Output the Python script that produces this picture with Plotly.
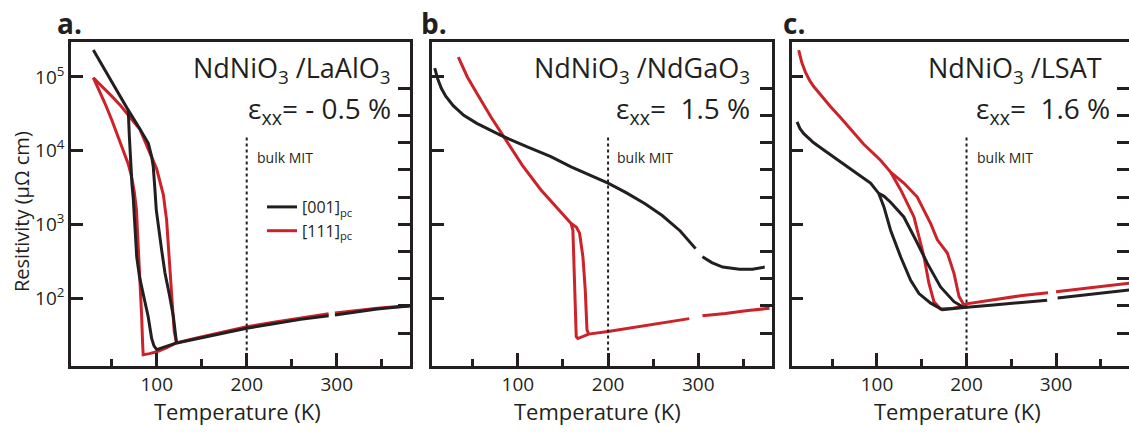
import plotly.graph_objects as go

# ---------------- data (T in K, log10 of resistivity in µΩ cm) ----------------
# Panel a: NdNiO3 / LaAlO3
a_black_T = [29.6, 50, 68.4, 69.6, 71, 72.5, 74, 76, 77.8, 81, 84, 87, 90.5, 94.4, 97, 100, 110, 122,
             142, 170, 200, 230, 260, 291, None, 298, 320, 345, 365, 381,
             None, 122, 120.5, 118.5, 114, 109.2, 105.5, 101.8, 99.5, 98.1, 97.3, 96.2, 94.4, 90.7, 80, 68.4]
a_black_log = [5.365, 4.94, 4.55, 4.2, 3.8, 3.55, 3.35, 2.85, 2.56, 2.28, 2.12, 1.97, 1.75, 1.45, 1.35, 1.30, 1.34, 1.39,
               1.44, 1.51, 1.59, 1.65, 1.71, 1.76, None, 1.77, 1.81, 1.85, 1.875, 1.89,
               None, 1.39, 1.55, 1.75, 2.05, 2.34, 2.65, 3.01, 3.2, 3.46, 3.62, 3.78, 3.92, 4.10, 4.32, 4.55]
a_red_T = [29.6, 36, 42.6, 50, 57, 63, 68.4, 72, 75, 77.5, 79, 80.5, 82, 83.3, 84.3, 85, 92, 100, 110, 122,
           142, 170, 200, 230, 260, 291, None, 298, 320, 345, 365, 381,
           None, 122, 119.5, 118, 116.5, 115, 113, 111, 109.5, 107.4, 100, 90.7, 81.4, 74, 66.7, 60, 50, 40.7, 29.6]
a_red_log = [4.99, 4.82, 4.64, 4.42, 4.19, 3.98, 3.82, 3.65, 3.45, 3.2, 2.85, 2.5, 2.1, 1.75, 1.4, 1.23, 1.245, 1.27, 1.32, 1.39,
             1.45, 1.53, 1.61, 1.67, 1.73, 1.785, None, 1.795, 1.83, 1.86, 1.88, 1.89,
             None, 1.39, 1.55, 1.8, 2.1, 2.4, 2.75, 3.06, 3.2, 3.40, 3.75, 4.02, 4.29, 4.40, 4.51, 4.61, 4.74, 4.86, 4.99]

# Panel b: NdNiO3 / NdGaO3
b_black_T = [7.8, 11, 15, 20, 28.3, 40, 54.5, 80.6, 110.5, 136.6, 159, 180, 200, 220, 241, 260, 280, 297,
             None, 304.6, 315, 327, 345.7, 360, 373.7]
b_black_log = [5.12, 4.98, 4.85, 4.74, 4.61, 4.48, 4.37, 4.21, 4.05, 3.92, 3.78, 3.67, 3.56, 3.43, 3.28, 3.12, 2.91, 2.67,
               None, 2.56, 2.48, 2.42, 2.39, 2.39, 2.42]
b_red_T = [34, 44, 54.5, 70, 84.3, 105, 125.4, 145, 159, 161, 162, 162.8, 164, 164.7, 166.5, 172, 178.4,
           200, 230, 260, 290, None, 304.6, 330, 355, 379,
           None, 159, 165, 168.4, 172.1, 174.7, 176.6, 178.4]
b_red_log = [5.27, 5.0, 4.78, 4.46, 4.19, 3.8, 3.47, 3.2, 3.01, 2.92, 2.5, 2.11, 1.7, 1.475, 1.45, 1.48, 1.51,
             1.545, 1.6, 1.665, 1.72, None, 1.76, 1.79, 1.83, 1.86,
             None, 3.01, 2.96, 2.88, 2.56, 2.11, 1.57, 1.51]

# Panel c: NdNiO3 / LSAT
c_black_T = [10.8, 14, 18.3, 29, 40.6, 55, 66.8, 80, 92.8, 102, 107.7, 115.2, 126.4, 137.6, 146.9, 160, 173, 185, 197,
             230, 260, 290, None, 301.7, 330, 355, 381.8,
             None, 102, 108, 115.2, 130, 143.2, 156.3, 171, 186, 197]
c_black_log = [4.39, 4.30, 4.23, 4.11, 4.01, 3.89, 3.78, 3.67, 3.56, 3.42, 3.24, 2.92, 2.56, 2.24, 2.06, 1.93, 1.84, 1.85, 1.87,
               1.905, 1.94, 1.97, None, 2.0, 2.04, 2.075, 2.11,
               None, 3.42, 3.38, 3.30, 3.10, 2.79, 2.47, 2.15, 1.95, 1.87]
c_red_T = [12.6, 16, 20, 25, 29.4, 38.8, 48, 60, 70.5, 85, 104, 115.2, 126.4, 141.3, 152.5, 158, 163.6, 171, 185, 197, 200,
           230, 260, 291, None, 300, 330, 355, 381.8,
           None, 115.2, 130, 145, 160, 167.4, 178.6, 186, 191.6, 197.2, 200]
c_red_log = [5.365, 5.2, 5.07, 4.95, 4.87, 4.73, 4.60, 4.44, 4.29, 4.09, 3.87, 3.71, 3.47, 3.10, 2.56, 2.20, 1.95, 1.85, 1.86, 1.89, 1.92,
             1.98, 2.03, 2.07, None, 2.085, 2.13, 2.17, 2.20,
             None, 3.71, 3.56, 3.37, 3.01, 2.79, 2.61, 2.335, 2.02, 1.905, 1.92]

mit_T = [200, 200]
mit_log = [4.18, 1.0]

x_ticks = [100, 200, 300]
x_minor = [50, 150, 250, 350]
y_tick_vals = [1e2, 1e3, 1e4, 1e5]
y_tick_text = ["10<sup>2</sup>", "10<sup>3</sup>", "10<sup>4</sup>", "10<sup>5</sup>"]
right_ticks = list(range(10))

titles = ["NdNiO<sub>3</sub> /LaAlO<sub>3</sub>", "NdNiO<sub>3</sub> /NdGaO<sub>3</sub>", "NdNiO<sub>3</sub> /LSAT"]
strains = ["ε<sub>xx</sub>= - 0.5 %", "ε<sub>xx</sub>=\u00a0\u00a01.5 %", "ε<sub>xx</sub>=\u00a0\u00a01.6 %"]
letters = ["a.", "b.", "c."]
legend_names = ["[001]<sub>pc</sub>", "[111]<sub>pc</sub>"]

# ---------------- styling ----------------
W, H = 1129, 432
INK = "#231f20"
RED = "#cc2229"
FONT = "Open Sans"
def px(x): return x / W
def py(y): return 1 - y / H

XDOM = [[71, 410], [432, 771.7], [791.7, 1129]]
YDOM = [py(365.7), py(42)]
XRANGE = [4.8, 381.4]
YRANGE = [1.081, 5.475]

def tolin(vals):
    return [None if v is None else 10 ** v for v in vals]

fig = go.Figure()
panels = [(a_black_T, a_black_log, a_red_T, a_red_log),
          (b_black_T, b_black_log, b_red_T, b_red_log),
          (c_black_T, c_black_log, c_red_T, c_red_log)]

for i, (bT, bL, rT, rL) in enumerate(panels):
    xa = "x" if i == 0 else f"x{i+1}"
    ya = "y" if i == 0 else f"y{2*i+1}"
    fig.add_trace(go.Scatter(x=rT, y=tolin(rL), mode="lines", xaxis=xa, yaxis=ya,
                             line=dict(color=RED, width=3), name=legend_names[1],
                             showlegend=(i == 0), legendrank=2, connectgaps=False, hoverinfo="skip"))
    fig.add_trace(go.Scatter(x=bT, y=tolin(bL), mode="lines", xaxis=xa, yaxis=ya,
                             line=dict(color=INK, width=3), name=legend_names[0],
                             showlegend=(i == 0), legendrank=1, connectgaps=False, hoverinfo="skip"))
    fig.add_trace(go.Scatter(x=mit_T, y=tolin(mit_log), mode="lines", xaxis=xa, yaxis=ya,
                             line=dict(color=INK, width=2, dash="3px,3px"), showlegend=False, hoverinfo="skip"))
    # dummy trace to attach the right-hand tick axis
    fig.add_trace(go.Scatter(x=[None], y=[None], xaxis=xa, yaxis=f"y{2*i+2}", showlegend=False, hoverinfo="skip"))

layout = dict(width=W, height=H, margin=dict(l=0, r=0, t=0, b=0),
              paper_bgcolor="white", plot_bgcolor="white",
              font=dict(family=FONT, color=INK),
              legend=dict(x=px(262), y=py(190), xanchor="left", yanchor="top",
                          bgcolor="rgba(0,0,0,0)", font=dict(size=16, family=FONT, color=INK),
                          itemwidth=30, tracegroupgap=0))

for i in range(3):
    xk = "xaxis" if i == 0 else f"xaxis{i+1}"
    ymain = "yaxis" if i == 0 else f"yaxis{2*i+1}"
    yright = f"yaxis{2*i+2}"
    xa = "x" if i == 0 else f"x{i+1}"
    ya = "y" if i == 0 else f"y{2*i+1}"
    layout[xk] = dict(domain=[px(XDOM[i][0]), px(XDOM[i][1])], range=XRANGE, anchor=ya,
                      showline=True, linecolor=INK, linewidth=2.5, mirror=True,
                      ticks="inside", tickvals=x_ticks, ticklen=13, tickwidth=2.5, tickcolor=INK,
                      minor=dict(tickvals=x_minor, ticks="inside", ticklen=7, tickwidth=2.5, tickcolor=INK),
                      showgrid=False, zeroline=False,
                      tickfont=dict(size=19, family=FONT, color=INK))
    layout[ymain] = dict(domain=YDOM, type="log", range=YRANGE, anchor=xa,
                         showline=True, linecolor=INK, linewidth=2.5, mirror=(i < 2),
                         ticks="inside", tickvals=y_tick_vals, ticktext=y_tick_text,
                         ticklen=12, tickwidth=2.5, tickcolor=INK,
                         showticklabels=(i == 0), showgrid=False, zeroline=False,
                         tickfont=dict(size=19, family=FONT, color=INK))
    layout[yright] = dict(overlaying=ya, anchor=xa, side="right", range=[-1.2, 10.7],
                          tickvals=right_ticks, ticks="inside", ticklen=12, tickwidth=2.5, tickcolor=INK,
                          showticklabels=False, showgrid=False, zeroline=False, showline=False)

fig.update_layout(**layout)

annotations = []
x_title_centers = [237, 597, 957]
title_right = [393, 752, 1104]
strain_right = [393, 752, 1112]
mit_left = [255, 615, 975]
letter_x = [55, 419, 781]
for i in range(3):
    annotations.append(dict(text=titles[i], x=px(title_right[i]), y=py(70), xref="paper", yref="paper",
                            xanchor="right", yanchor="middle", showarrow=False,
                            font=dict(size=27, family=FONT, color=INK)))
    annotations.append(dict(text=strains[i], x=px(strain_right[i]), y=py(110), xref="paper", yref="paper",
                            xanchor="right", yanchor="middle", showarrow=False,
                            font=dict(size=28, family=FONT, color=INK)))
    annotations.append(dict(text="bulk MIT", x=px(mit_left[i]), y=py(158), xref="paper", yref="paper",
                            xanchor="left", yanchor="middle", showarrow=False,
                            font=dict(size=14, family=FONT, color=INK)))
    annotations.append(dict(text="<b>" + letters[i] + "</b>", x=px(letter_x[i]), y=py(23), xref="paper", yref="paper",
                            xanchor="left", yanchor="middle", showarrow=False,
                            font=dict(size=28, family=FONT, color=INK)))
    annotations.append(dict(text="Temperature (K)", x=px(x_title_centers[i]), y=py(411), xref="paper", yref="paper",
                            xanchor="center", yanchor="middle", showarrow=False,
                            font=dict(size=22, family=FONT, color=INK)))
annotations.append(dict(text="Resitivity (μΩ cm)", x=px(22), y=py(212), xref="paper", yref="paper",
                        xanchor="center", yanchor="middle", textangle=-90, showarrow=False,
                        font=dict(size=20, family=FONT, color=INK)))
fig.update_layout(annotations=annotations)

fig.write_html("out.html")
